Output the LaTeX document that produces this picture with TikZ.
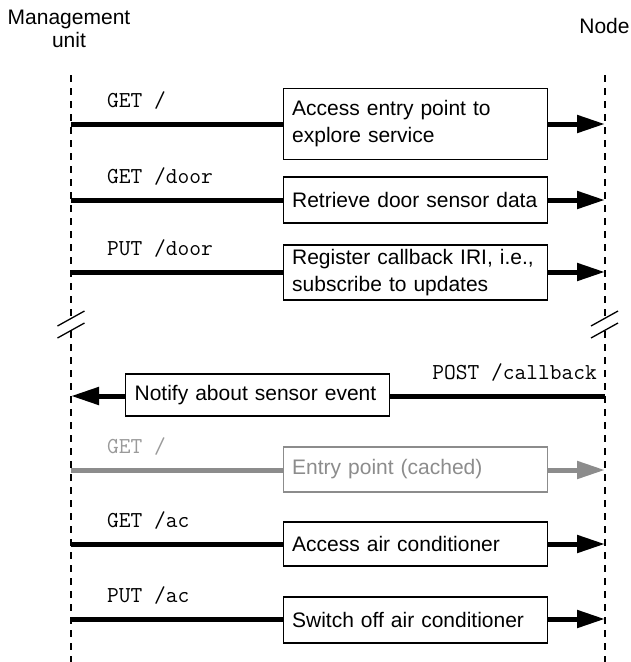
\documentclass[tikz,border=0pt]{standalone}
\usepackage{fontspec}
\setmainfont{Liberation Sans}
\usetikzlibrary{arrows.meta}
\definecolor{fadeline}{HTML}{8C8C8C}
\definecolor{fadetext}{HTML}{9A9A9A}
\tikzset{
  life/.style={line width=1.3pt, dash pattern=on 7pt off 6pt},
  msg/.style={line width=5pt},
  msgtip/.style={line width=5pt, -{Triangle[length=28pt,width=17pt]}},
  box/.style={draw, line width=1.3pt, fill=white, align=left, text width=246pt,
    inner xsep=9pt, inner ysep=0pt, font=\fontsize{21}{27}\selectfont, anchor=west},
  lbl/.style={font=\ttfamily\fontsize{22.8}{24}\selectfont, anchor=base west, inner sep=0pt},
  lblr/.style={lbl, anchor=base east},
  hdr/.style={font=\fontsize{21}{23}\selectfont, align=center, inner sep=0pt},
  brk/.style={line width=1.3pt},
  faded/.style={draw=fadeline, text=fadeline}
}
\begin{document}
\begin{tikzpicture}[x=1pt,y=-1pt]
\useasboundingbox (0,0) rectangle (630,662);
% headers
\node[hdr, anchor=north] (mu) at (69,10) {Management\\unit};
\node[hdr, anchor=base] (nd) at (604.5,33) {Node};
% lifelines
\coordinate (Lt) at (71,75);  \coordinate (Lb1) at (71,318);
\coordinate (La1) at (71,331); \coordinate (Lbot) at (71,662);
\coordinate (Rt) at (605,75);  \coordinate (Rb1) at (605,318);
\coordinate (Ra1) at (605,331); \coordinate (Rbot) at (605,662);
\draw[life] (Lt) -- (Lb1);
\draw[life] (La1) -- (Lbot);
\draw[life] (Rt) -- (Rb1);
\draw[life] (Ra1) -- (Rbot);
% break marks
\draw[brk] (57.5,326) -- (84.5,311);
\draw[brk] (57.5,338) -- (84.5,323);
\draw[brk] (591,326) -- (618,311);
\draw[brk] (591,338) -- (618,323);
% row 1
\coordinate (l1) at (71,124); \coordinate (r1) at (605,124);
\node[box, minimum height=71pt] (b1) at (282.5,124) {Access entry point to\\explore service};
\node[lbl] (g1) at (107,107) {GET /};
\draw[msg] (l1) -- (l1 -| b1.west);
\draw[msgtip] (l1 -| b1.east) -- (r1);
% row 2
\coordinate (l2) at (71,200); \coordinate (r2) at (605,200);
\node[box, minimum height=46pt] (b2) at (282.5,200) {Retrieve door sensor data};
\node[lbl] (g2) at (107,183) {GET /door};
\draw[msg] (l2) -- (l2 -| b2.west);
\draw[msgtip] (l2 -| b2.east) -- (r2);
% row 3
\coordinate (l3) at (71,272); \coordinate (r3) at (605,272);
\node[box, minimum height=55pt] (b3) at (282.5,272.5) {Register callback IRI, i.e.,\\subscribe to updates};
\node[lbl] (g3) at (107,255) {PUT /door};
\draw[msg] (l3) -- (l3 -| b3.west);
\draw[msgtip] (l3 -| b3.east) -- (r3);
% row 4 (callback)
\coordinate (l4) at (71,396); \coordinate (r4) at (605,396);
\node[box, minimum height=42pt] (b4) at (125,395) {Notify about sensor event};
\node[lblr] (g4) at (597,379) {POST /callback};
\draw[msg] (r4) -- (r4 -| b4.east);
\draw[msgtip] (r4 -| b4.west) -- (l4);
% row 5 (cached, faded)
\coordinate (l5) at (71,470); \coordinate (r5) at (605,470);
\node[box, faded, minimum height=45pt] (b5) at (282.5,469.5) {Entry point (cached)};
\node[lbl, text=fadetext] (g5) at (107,453) {GET /};
\draw[msg, fadeline] (l5) -- (l5 -| b5.west);
\draw[msgtip, fadeline] (l5 -| b5.east) -- (r5);
% row 6
\coordinate (l6) at (71,544); \coordinate (r6) at (605,544);
\node[box, minimum height=44pt] (b6) at (282.5,544) {Access air conditioner};
\node[lbl] (g6) at (107,527) {GET /ac};
\draw[msg] (l6) -- (l6 -| b6.west);
\draw[msgtip] (l6 -| b6.east) -- (r6);
% row 7
\coordinate (l7) at (71,619); \coordinate (r7) at (605,619);
\node[box, minimum height=46pt] (b7) at (282.5,620) {Switch off air conditioner};
\node[lbl] (g7) at (107,602) {PUT /ac};
\draw[msg] (l7) -- (l7 -| b7.west);
\draw[msgtip] (l7 -| b7.east) -- (r7);
\end{tikzpicture}
\end{document}
